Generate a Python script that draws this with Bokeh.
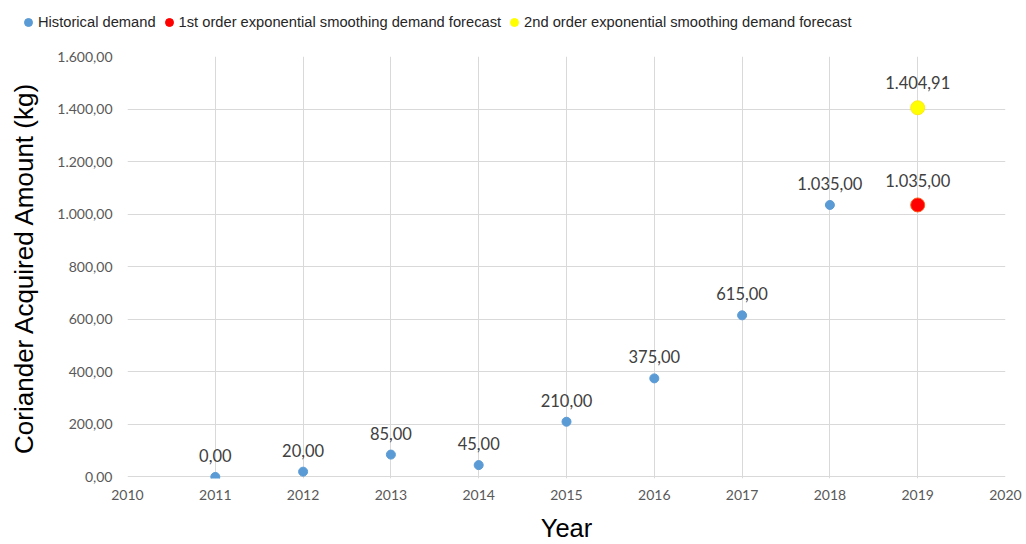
from bokeh.plotting import figure
from bokeh.layouts import column, row
from bokeh.models import ColumnDataSource, Legend, LegendItem, FixedTicker, CustomJSTickFormatter, Range1d
from bokeh.core.properties import value
from bokeh.embed import file_html
from bokeh.resources import INLINE

hist_years = [2011, 2012, 2013, 2014, 2015, 2016, 2017, 2018]
hist_values = [0, 20, 85, 45, 210, 375, 615, 1035]
first_years = [2019]
first_values = [1035.00]
second_years = [2019]
second_values = [1404.91]
x_ticks = list(range(2010, 2021))
y_ticks = list(range(0, 1601, 200))
series_names = ["Historical demand",
                "1st order exponential smoothing demand forecast",
                "2nd order exponential smoothing demand forecast"]

BLUE, RED, YELLOW = "#5b9bd5", "#ff0000", "#ffff00"


def fmt(v):
    s = f"{v:,.2f}"
    return s.replace(",", "X").replace(".", ",").replace("X", ".")


p = figure(width=1026, height=504, output_backend="svg", toolbar_location=None,
           x_range=Range1d(2010, 2020), y_range=Range1d(-6, 1600),
           min_border_left=127, min_border_right=21, min_border_top=16, min_border_bottom=66)
p.outline_line_color = None
p.background_fill_color = "white"
p.border_fill_color = "white"

for ax in (p.xaxis[0], p.yaxis[0]):
    ax.axis_line_color = None
    ax.major_tick_line_color = None
    ax.minor_tick_line_color = None
    ax.major_tick_out = 0
    ax.major_tick_in = 0
    ax.minor_tick_out = 0
    ax.minor_tick_in = 0
    ax.major_label_text_color = "#595959"
    ax.major_label_text_font = "Lato"
    ax.major_label_text_font_size = "14px"
    ax.axis_label_text_font = "Liberation Sans"
    ax.axis_label_text_font_style = "normal"
    ax.axis_label_text_color = "#000000"

p.xaxis.axis_label_text_font_size = "25.5px"
p.yaxis.axis_label_text_font_size = "26px"
p.xaxis.ticker = FixedTicker(ticks=x_ticks)
p.yaxis.ticker = FixedTicker(ticks=y_ticks)
p.yaxis.formatter = CustomJSTickFormatter(code="""
const s = tick.toFixed(2).split('.');
const i = s[0].replace(/\\B(?=(\\d{3})+(?!\\d))/g, '.');
return i + ',' + s[1];
""")
p.xaxis.major_label_standoff = 11
p.yaxis.major_label_standoff = 15
p.xaxis.axis_label = "Year"
p.yaxis.axis_label = "Coriander Acquired Amount (kg)"
p.xaxis.axis_label_standoff = 11
p.yaxis.axis_label_standoff = 15

p.xgrid.grid_line_color = "#d9d9d9"
p.ygrid.grid_line_color = "#d9d9d9"

hs = ColumnDataSource(dict(x=hist_years, y=hist_values, t=[fmt(v) for v in hist_values]))
fs = ColumnDataSource(dict(x=first_years, y=first_values, t=[fmt(v) for v in first_values]))
ss = ColumnDataSource(dict(x=second_years, y=second_values, t=[fmt(v) for v in second_values]))

p.scatter("x", "y", source=hs, size=9, fill_color=BLUE, line_color=BLUE)
p.scatter("x", "y", source=fs, size=14, fill_color=RED, line_color="#ff5a1a")
p.scatter("x", "y", source=ss, size=14, fill_color=YELLOW, line_color="#ffe81a")

for src, off in ((hs, -15), (fs, -18), (ss, -19)):
    p.text("x", "y", text="t", source=src, text_align="center", text_baseline="bottom",
           y_offset=off, text_font_size="16.5px", text_color="#404040", text_font=value("Lato"))

# legend strip
lf = figure(width=1026, height=40, output_backend="svg", toolbar_location=None,
            x_range=Range1d(0, 1), y_range=Range1d(0, 1),
            x_axis_location=None, y_axis_location=None,
            min_border_left=0, min_border_right=0, min_border_top=0, min_border_bottom=0)
lf.grid.visible = False
lf.outline_line_color = None
lf.border_fill_color = "white"
hidden = dict(x=[-5], y=[-5])
g1 = lf.scatter("x", "y", source=ColumnDataSource(hidden), fill_color=BLUE, line_color=BLUE)
g2 = lf.scatter("x", "y", source=ColumnDataSource(hidden), fill_color=RED, line_color=RED)
g3 = lf.scatter("x", "y", source=ColumnDataSource(hidden), fill_color=YELLOW, line_color=YELLOW)

legend = Legend(items=[LegendItem(label=n, renderers=[g]) for n, g in zip(series_names, (g1, g2, g3))],
                orientation="horizontal", location=(18, 8), border_line_color=None,
                background_fill_alpha=0, label_text_font="Liberation Sans", label_text_font_size="14.7px",
                label_text_color="#262626", glyph_width=20, glyph_height=20, label_standoff=0,
                spacing=3, padding=0, margin=0)
lf.add_layout(legend, "center")

layout = column(row(lf), p, spacing=0)
open("out.html", "w").write(file_html(layout, INLINE))
